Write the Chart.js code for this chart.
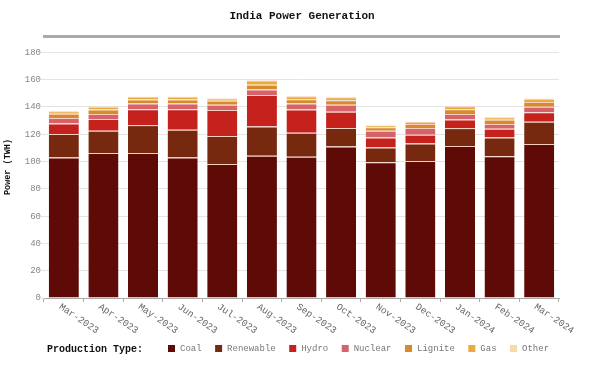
<!DOCTYPE html>
<html>
<head>
<meta charset="utf-8">
<script src="https://cdn.jsdelivr.net/npm/chart.js@4/dist/chart.umd.min.js"></script>
<style>
html,body{margin:0;padding:0;background:#fff;}
canvas{display:block;}
</style>
</head>
<body>
<canvas id="c" width="604" height="388"></canvas>
<script>
const categories = ["Mar-2023","Apr-2023","May-2023","Jun-2023","Jul-2023","Aug-2023","Sep-2023","Oct-2023","Nov-2023","Dec-2023","Jan-2024","Feb-2024","Mar-2024"];
const coal      = [103.0,106.2,106.2,103.0,98.2,104.3,103.5,111.1,99.4,100.4,111.4,103.8,112.8];
const renewable = [17.1,16.4,20.5,20.3,20.5,21.4,17.6,13.4,10.9,12.9,13.1,13.9,16.3];
const hydro     = [7.8,8.5,11.7,15.1,19.0,23.0,17.0,12.0,7.4,6.3,6.3,6.3,7.1];
const nuclear   = [4.0,3.7,4.1,4.1,3.9,4.1,4.4,5.1,4.9,4.9,4.0,3.5,3.9];
const lignite   = [3.2,3.3,3.0,3.0,2.9,3.4,3.2,3.3,2.6,3.0,3.5,3.2,3.5];
const gas       = [1.8,1.9,1.9,1.9,1.7,3.1,2.2,2.2,1.2,1.6,2.3,1.8,2.3];
const other     = [0.3,0.3,0.3,0.3,0.3,0.4,0.3,0.3,0.3,0.3,0.3,0.3,0.3];
const yTicks    = [0,20,40,60,80,100,120,140,160,180];
const seriesNames = ["Coal","Renewable","Hydro","Nuclear","Lignite","Gas","Other"];
const seriesColors = ["#5e0a06","#76290f","#c5211d","#d6636a","#d98a2c","#e9ab3b","#f3dca6"];
const seriesData = [coal,renewable,hydro,nuclear,lignite,gas,other];

const MONO = '"Courier New","Liberation Mono",monospace';

const decor = {
  id:'decor',
  afterDraw(chart){
    const ctx = chart.ctx;
    const xs = chart.scales.x;
    ctx.save();
    ctx.fillStyle = '#111';
    ctx.font = 'bold 11px ' + MONO;
    ctx.textAlign = 'center';
    ctx.textBaseline = 'middle';
    ctx.fillText('India Power Generation', 302, 16);
    ctx.font = '9.5px ' + MONO;
    ctx.fillStyle = '#666';
    ctx.textAlign = 'left';
    ctx.textBaseline = 'middle';
    categories.forEach((c,i)=>{
      const x = xs.getPixelForTick(i);
      ctx.save();
      ctx.translate(x - 4, 306);
      ctx.rotate(34*Math.PI/180);
      ctx.fillText(c, 0, 0);
      ctx.restore();
    });
    const ly = 349;
    ctx.font = 'bold 10px ' + MONO;
    ctx.fillStyle = '#111';
    ctx.fillText('Production Type:', 47, ly);
    ctx.font = '9px ' + MONO;
    let x = 168;
    chart.data.datasets.forEach(ds=>{
      ctx.fillStyle = ds.backgroundColor;
      ctx.fillRect(x, ly-4, 7, 7);
      ctx.fillStyle = '#777';
      ctx.fillText(ds.label, x+12, ly);
      x += 12 + ctx.measureText(ds.label).width + 13.5;
    });
    ctx.restore();
  }
};

new Chart(document.getElementById('c'), {
  type:'bar',
  data:{
    labels: categories,
    datasets: seriesNames.map((n,i)=>({
      label:n,
      data:seriesData[i],
      backgroundColor:seriesColors[i],
      borderColor:'#f7cdbd',
      borderWidth:{top:1,left:0,right:0,bottom:0},
      borderSkipped:false,
      barPercentage:0.76,
      categoryPercentage:1.0
    }))
  },
  options:{
    responsive:false,
    animation:false,
    layout:{padding:{top:28,right:45,bottom:86,left:0}},
    plugins:{legend:{display:false},title:{display:false},tooltip:{enabled:false}},
    scales:{
      x:{
        stacked:true,
        ticks:{display:false},
        grid:{drawOnChartArea:false,drawTicks:true,tickLength:4,color:'#aaa'},
        border:{color:'#aaa',width:1}
      },
      x2:{
        position:'top',
        ticks:{display:false},
        grid:{display:false},
        border:{color:'#aaa',width:3}
      },
      y:{
        stacked:true,
        min:0,
        max:192,
        afterBuildTicks(s){ s.ticks = yTicks.map(v=>({value:v})); },
        afterFit(s){ s.width = 44; },
        ticks:{font:{family:MONO,size:9},color:'#888',padding:0},
        grid:{color:'#e4e4e4',tickLength:3,drawTicks:true},
        border:{display:false},
        title:{display:true,text:'Power (TWH)',font:{family:MONO,size:8.5,weight:'bold'},color:'#111',padding:{top:3,bottom:0}}
      }
    }
  },
  plugins:[decor]
});
</script>
</body>
</html>
